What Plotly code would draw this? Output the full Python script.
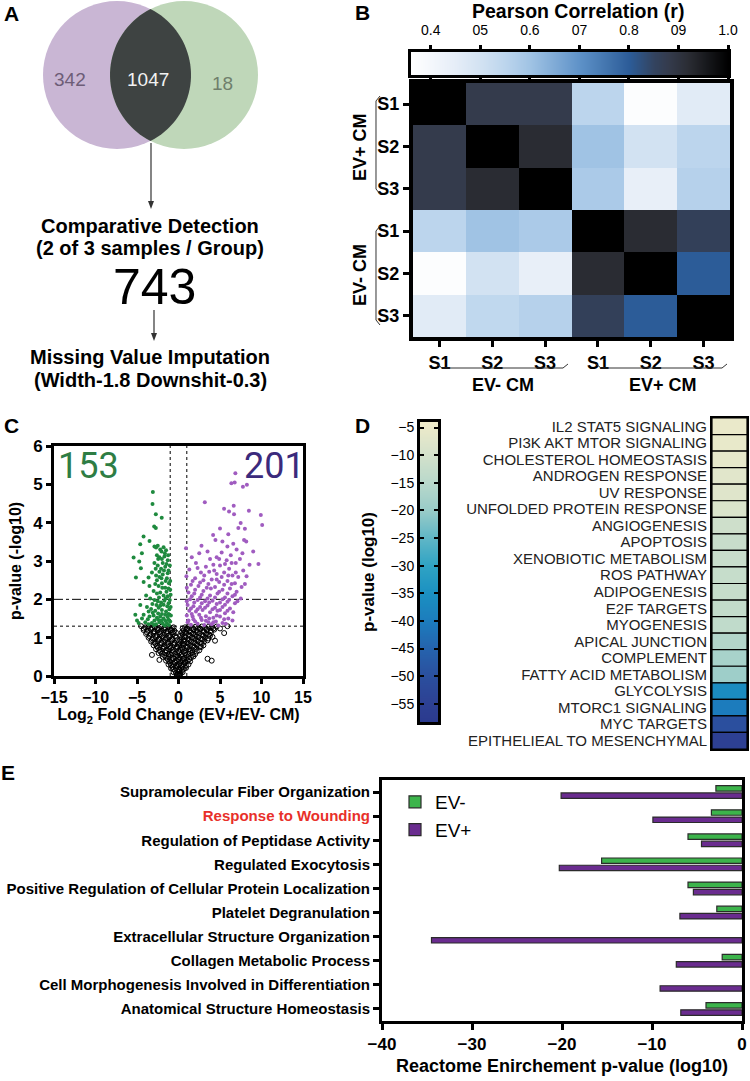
import numpy as np
import plotly.graph_objects as go

W, H = 750, 1081
FONT = "Liberation Sans, Arial, Helvetica, sans-serif"


def px(x):
    return x / W


def py(y):
    return 1 - y / H


# ---------------- A: overlap + workflow ----------------
venn_counts = ["342", "1047", "18"]
detected = "743"
step1 = ["Comparative Detection", "(2 of 3 samples / Group)"]
step2 = ["Missing Value Imputation", "(Width-1.8 Downshit-0.3)"]

# ---------------- B: Pearson correlation ----------------
b_rows = ["S1", "S2", "S3", "S1", "S2", "S3"]
b_cols = ["S1", "S2", "S3", "S1", "S2", "S3"]
b_corr = [
    [1.00, 0.88, 0.88, 0.55, 0.37, 0.46],
    [0.88, 1.00, 0.92, 0.60, 0.50, 0.55],
    [0.88, 0.92, 1.00, 0.58, 0.44, 0.56],
    [0.55, 0.60, 0.58, 1.00, 0.92, 0.86],
    [0.37, 0.50, 0.44, 0.92, 1.00, 0.80],
    [0.46, 0.54, 0.56, 0.86, 0.80, 1.00],
]
b_tickvals = [0.4, 0.5, 0.6, 0.7, 0.8, 0.9, 1.0]
b_ticktext = ["0.4", "05", "0.6", "07", "0.8", "09", "1.0"]
b_lo, b_hi = 0.36, 1.0
b_stops = [(0.36, "#ffffff"), (0.40, "#f4f7fc"), (0.45, "#e5edf7"), (0.50, "#d2e2f2"),
           (0.55, "#bcd5ed"), (0.60, "#a0c3e4"), (0.70, "#5e92c8"), (0.80, "#2c5c98"),
           (0.85, "#33435f"), (0.88, "#343b4c"), (0.92, "#2a2c33"), (1.00, "#000000")]

# ---------------- C: volcano ----------------
down_pts = [(-3.09, 4.80), (-3.13, 4.49), (-2.73, 4.22), (-2.02, 4.13), (-2.93, 3.90), (-2.73, 3.86),
            (-4.21, 3.64), (-3.49, 3.52), (-4.61, 3.44), (-5.41, 3.09), (-4.41, 3.20), (-4.73, 2.99),
            (-5.13, 2.57), (-4.53, 2.81), (-3.61, 2.57),
            (-2.9, 3.38), (-2.7, 3.35), (-2.5, 3.40), (-2.2, 3.30), (-1.8, 3.36), (-1.5, 3.28),
            (-2.6, 3.15), (-2.3, 3.10), (-2.0, 3.05), (-1.7, 3.12), (-1.3, 3.02), (-2.9, 2.95),
            (-2.5, 2.88), (-2.1, 2.80), (-1.6, 2.85), (-1.2, 2.75), (-3.2, 2.70), (-2.7, 2.62),
            (-2.3, 2.58), (-1.9, 2.65), (-1.4, 2.55), (-1.0, 2.48), (-2.8, 2.40), (-2.4, 2.35),
            (-2.0, 2.42), (-1.6, 2.30), (-1.2, 2.28), (-3.0, 2.22), (-2.6, 2.15), (-2.2, 2.18),
            (-1.8, 2.10), (-1.3, 2.08), (-0.95, 2.12), (-3.4, 2.02), (-2.9, 1.98), (-2.5, 1.95),
            (-2.1, 1.92), (-1.7, 1.96), (-1.2, 1.90), (-4.6, 1.85), (-3.8, 1.80), (-3.3, 1.75),
            (-2.8, 1.70), (-2.4, 1.78), (-2.0, 1.72), (-1.5, 1.68), (-1.1, 1.74), (-4.2, 1.60),
            (-3.5, 1.55), (-3.0, 1.58), (-2.6, 1.52), (-2.2, 1.55), (-1.8, 1.50), (-1.3, 1.54),
            (-5.0, 1.45), (-4.0, 1.40), (-3.2, 1.38), (-2.7, 1.35), (-2.3, 1.40), (-1.9, 1.36),
            (-1.4, 1.38), (-1.0, 1.42),
            (-2.05, 3.25), (-1.65, 3.20), (-1.25, 3.15), (-2.45, 3.05), (-1.9, 2.95), (-1.45, 2.92),
            (-1.05, 2.88), (-2.75, 2.80), (-2.3, 2.72), (-1.75, 2.75), (-1.3, 2.68), (-2.05, 2.55),
            (-1.55, 2.48), (-1.15, 2.42), (-2.6, 2.50), (-3.5, 2.35), (-1.95, 2.30), (-1.45, 2.20),
            (-1.0, 2.25), (-2.35, 2.05), (-1.55, 2.02), (-1.05, 1.98), (-3.15, 1.88), (-2.65, 1.85),
            (-2.2, 1.83), (-1.8, 1.86), (-1.35, 1.82), (-0.95, 1.80), (-3.6, 1.68), (-3.1, 1.65),
            (-2.45, 1.63), (-2.0, 1.62), (-1.6, 1.60), (-1.2, 1.62), (-0.92, 1.58), (-4.4, 1.50),
            (-3.7, 1.48), (-2.9, 1.45), (-2.45, 1.47), (-2.05, 1.45), (-1.6, 1.44), (-1.2, 1.47),
            (-3.6, 1.35), (-2.95, 1.33), (-1.65, 1.32), (-1.15, 1.33), (-4.8, 1.38), (-5.2, 1.60),
            (-3.9, 2.10), (-4.2, 2.45)]
up_pts = [(6.85, 5.29), (6.37, 5.03), (6.77, 5.05), (7.76, 4.94), (8.24, 4.99), (3.17, 4.53),
          (6.65, 4.44), (5.49, 4.36), (6.09, 4.29), (6.69, 4.22), (8.48, 4.31), (9.92, 4.20),
          (10.08, 3.94), (7.49, 3.99), (8.00, 3.84), (7.21, 3.86), (8.16, 3.51), (4.17, 3.68),
          (4.45, 3.55), (5.29, 3.51), (5.89, 3.38), (0.90, 3.33), (2.77, 3.40), (2.50, 3.20),
          (9.63, 2.92), (8.56, 2.90),
          (6.6, 3.45), (7.0, 3.30), (6.3, 3.15), (5.2, 3.22), (4.6, 3.10), (3.8, 3.05), (5.8, 3.02),
          (7.4, 3.05), (6.9, 2.95), (4.2, 2.90), (3.3, 2.85), (5.0, 2.88), (6.1, 2.80), (7.8, 2.75),
          (2.7, 2.70), (3.7, 2.72), (4.6, 2.66), (5.5, 2.70), (6.5, 2.62), (7.2, 2.58), (2.0, 2.55),
          (3.0, 2.50), (4.0, 2.52), (4.9, 2.45), (5.9, 2.48), (6.8, 2.42), (8.0, 2.40), (1.5, 2.38),
          (2.4, 2.35), (3.4, 2.30), (4.4, 2.32), (5.3, 2.25), (6.2, 2.28), (7.0, 2.20), (1.2, 2.18),
          (1.9, 2.15), (2.8, 2.12), (3.8, 2.10), (4.7, 2.15), (5.6, 2.05), (6.5, 2.08), (7.5, 2.02),
          (1.4, 2.00), (2.3, 1.98), (3.2, 1.95), (4.1, 1.96), (5.0, 1.92), (5.9, 1.94), (6.8, 1.90),
          (1.1, 1.85), (1.8, 1.82), (2.6, 1.80), (3.5, 1.84), (4.4, 1.78), (5.3, 1.80), (6.2, 1.76),
          (1.3, 1.70), (2.1, 1.68), (2.9, 1.72), (3.8, 1.66), (4.7, 1.70), (5.6, 1.64), (1.0, 1.58),
          (1.7, 1.55), (2.5, 1.60), (3.3, 1.56), (4.2, 1.52), (5.0, 1.55), (6.0, 1.50), (1.2, 1.45),
          (2.0, 1.42), (2.8, 1.46), (3.6, 1.40), (4.5, 1.42), (5.3, 1.38), (1.5, 1.34), (2.3, 1.36),
          (3.1, 1.33), (4.0, 1.35), (4.8, 1.32),
          (1.6, 3.10), (2.1, 2.95), (3.5, 3.25), (4.9, 3.05), (5.6, 2.92), (6.4, 2.95), (7.7, 3.20),
          (1.3, 2.78), (2.3, 2.82), (3.1, 2.62), (4.3, 2.75), (5.2, 2.58), (6.0, 2.62), (6.9, 2.70),
          (8.2, 2.60), (1.7, 2.48), (2.6, 2.44), (3.6, 2.40), (4.6, 2.52), (5.5, 2.38), (6.4, 2.40),
          (7.6, 2.32), (1.0, 2.30), (2.0, 2.25), (3.0, 2.22), (3.9, 2.28), (4.9, 2.20), (5.9, 2.15),
          (6.8, 2.12), (1.6, 2.08), (2.6, 2.05), (3.5, 2.02), (4.4, 2.05), (5.3, 2.00), (6.1, 1.99),
          (7.1, 1.95), (1.0, 1.95), (1.9, 1.92), (2.8, 1.90), (3.7, 1.92), (4.6, 1.88), (5.6, 1.86),
          (1.5, 1.76), (2.3, 1.74), (3.2, 1.78), (4.1, 1.74), (5.0, 1.72), (5.9, 1.70), (6.6, 1.66),
          (1.6, 1.62), (2.7, 1.52), (3.7, 1.50), (4.6, 1.58), (5.5, 1.48), (1.1, 1.40), (1.8, 1.48),
          (3.3, 1.44), (4.2, 1.40), (5.7, 1.36), (6.5, 1.45), (0.95, 2.60), (9.0, 3.25), (7.9, 3.55),
          (5.0, 3.85), (6.0, 3.70)]
ns_pts = [(-4.5, 1.30), (-4.0, 1.27), (-3.6, 1.29), (-3.2, 1.26), (-2.8, 1.28), (-2.4, 1.25), (-2.0, 1.29),
          (-1.6, 1.26), (-1.2, 1.28), (-0.8, 1.25), (0.8, 1.27), (1.2, 1.29), (1.6, 1.25), (2.0, 1.28),
          (2.4, 1.26), (2.8, 1.29), (3.2, 1.25), (3.6, 1.28), (4.0, 1.27), (4.6, 1.29), (5.9, 1.30),
          (-4.2, 1.20), (-3.7, 1.18), (-3.3, 1.21), (-2.9, 1.17), (-2.5, 1.20), (-2.1, 1.18), (-1.7, 1.21),
          (-1.3, 1.17), (-0.9, 1.20), (-0.5, 1.18), (0.6, 1.19), (1.0, 1.21), (1.4, 1.17), (1.8, 1.20),
          (2.2, 1.18), (2.6, 1.21), (3.0, 1.17), (3.4, 1.20), (3.9, 1.18), (4.3, 1.21), (5.5, 1.12),
          (-3.9, 1.10), (-3.4, 1.08), (-3.0, 1.11), (-2.6, 1.07), (-2.2, 1.10), (-1.8, 1.08), (-1.4, 1.11),
          (-1.0, 1.07), (-0.6, 1.10), (0.5, 1.09), (0.9, 1.11), (1.3, 1.07), (1.7, 1.10), (2.1, 1.08),
          (2.5, 1.11), (2.9, 1.07), (3.3, 1.10), (3.7, 1.08), (4.1, 1.02),
          (-3.6, 1.00), (-3.1, 0.98), (-2.7, 1.01), (-2.3, 0.97), (-1.9, 1.00), (-1.5, 0.98), (-1.1, 1.01),
          (-0.7, 0.97), (-0.3, 1.00), (0.4, 0.99), (0.8, 1.01), (1.2, 0.97), (1.6, 1.00), (2.0, 0.98),
          (2.4, 1.01), (2.8, 0.97), (3.2, 1.00), (3.6, 0.98),
          (-3.3, 0.90), (-2.9, 0.88), (-2.5, 0.91), (-2.1, 0.87), (-1.7, 0.90), (-1.3, 0.88), (-0.9, 0.91),
          (-0.5, 0.87), (0.3, 0.89), (0.7, 0.91), (1.1, 0.87), (1.5, 0.90), (1.9, 0.88), (2.3, 0.91),
          (2.7, 0.87), (3.1, 0.90), (4.4, 0.92),
          (-3.0, 0.80), (-2.6, 0.78), (-2.2, 0.81), (-1.8, 0.77), (-1.4, 0.80), (-1.0, 0.78), (-0.6, 0.81),
          (-0.2, 0.77), (0.3, 0.79), (0.6, 0.81), (1.0, 0.77), (1.4, 0.80), (1.8, 0.78), (2.2, 0.81),
          (2.6, 0.77), (3.0, 0.80),
          (-2.7, 0.70), (-2.3, 0.68), (-1.9, 0.71), (-1.5, 0.67), (-1.1, 0.70), (-0.7, 0.68), (-0.3, 0.71),
          (0.2, 0.69), (0.5, 0.71), (0.9, 0.67), (1.3, 0.70), (1.7, 0.68), (2.1, 0.71), (2.5, 0.67),
          (-2.4, 0.60), (-2.0, 0.58), (-1.6, 0.61), (-1.2, 0.57), (-0.8, 0.60), (-0.4, 0.58), (0.1, 0.61),
          (0.4, 0.57), (0.8, 0.60), (1.2, 0.58), (1.6, 0.61), (2.0, 0.57), (-3.2, 0.55),
          (-1.9, 0.50), (-1.5, 0.48), (-1.1, 0.51), (-0.7, 0.47), (-0.3, 0.50), (0.1, 0.48), (0.4, 0.51),
          (0.7, 0.47), (1.1, 0.50), (1.5, 0.48), (1.8, 0.51), (3.5, 0.45), (-2.3, 0.42),
          (-1.5, 0.40), (-1.1, 0.38), (-0.8, 0.41), (-0.5, 0.37), (-0.2, 0.40), (0.2, 0.38), (0.5, 0.41),
          (0.8, 0.37), (1.1, 0.40), (1.4, 0.38), (4.0, 0.40),
          (-1.2, 0.30), (-0.9, 0.28), (-0.6, 0.31), (-0.3, 0.27), (0.0, 0.30), (0.3, 0.28), (0.6, 0.31),
          (0.9, 0.27), (1.2, 0.30), (-0.9, 0.20), (-0.6, 0.18), (-0.3, 0.21), (0.0, 0.17), (0.3, 0.20),
          (0.6, 0.18), (0.9, 0.21), (-0.6, 0.10), (-0.3, 0.08), (0.0, 0.11), (0.2, 0.07), (0.5, 0.10),
          (-0.2, 0.03), (0.0, 0.01), (0.2, 0.04),
          (-4.2, 1.24), (-3.4, 1.24), (-2.6, 1.23), (-1.8, 1.24), (-1.0, 1.23), (-0.6, 1.27), (0.5, 1.24),
          (1.0, 1.24), (1.8, 1.23), (2.6, 1.24), (3.4, 1.23), (4.2, 1.24), (5.0, 1.24),
          (-3.8, 1.14), (-3.0, 1.15), (-2.3, 1.14), (-1.5, 1.15), (-0.7, 1.14), (-0.3, 1.13), (0.4, 1.14),
          (0.8, 1.15), (1.5, 1.13), (2.3, 1.14), (3.1, 1.15), (3.9, 1.13),
          (-3.5, 1.04), (-2.8, 1.05), (-2.0, 1.04), (-1.2, 1.05), (-0.4, 1.04), (0.3, 1.05), (0.7, 1.04),
          (1.4, 1.05), (2.2, 1.03), (3.0, 1.04), (3.8, 1.05),
          (-3.2, 0.94), (-2.4, 0.95), (-1.6, 0.94), (-0.8, 0.95), (-0.2, 0.93), (0.2, 0.94), (0.6, 0.95),
          (1.3, 0.93), (2.1, 0.94), (2.9, 0.95), (3.5, 0.93),
          (-2.8, 0.84), (-2.0, 0.85), (-1.2, 0.84), (-0.4, 0.85), (0.1, 0.84), (0.5, 0.85), (1.2, 0.84),
          (2.0, 0.85), (2.8, 0.84),
          (-2.5, 0.74), (-1.7, 0.75), (-0.9, 0.74), (-0.1, 0.75), (0.4, 0.74), (1.1, 0.75), (1.9, 0.74),
          (2.7, 0.75), (-2.2, 0.64), (-1.4, 0.65), (-0.6, 0.64), (0.0, 0.65), (0.6, 0.64), (1.4, 0.65),
          (2.2, 0.64), (-1.7, 0.54), (-0.9, 0.55), (-0.1, 0.54), (0.3, 0.55), (0.9, 0.54), (1.7, 0.55),
          (-1.3, 0.44), (-0.6, 0.45), (0.0, 0.44), (0.6, 0.45), (1.3, 0.44), (-1.0, 0.34), (-0.4, 0.35),
          (0.2, 0.34), (0.8, 0.35), (-0.7, 0.24), (-0.1, 0.25), (0.5, 0.24), (-0.4, 0.14), (0.1, 0.15),
          (0.4, 0.13), (-0.1, 0.06), (0.1, 0.05)]
n_down, n_up = "153", "201"
fc_lines = [-1, 1]
p_lines = [(2.0, "dashdot"), (1.3, "dot")]

# ---------------- D: hallmark pathways ----------------
d_pathways = ["IL2 STAT5 SIGNALING", "PI3K AKT MTOR SIGNALING", "CHOLESTEROL HOMEOSTASIS",
              "ANDROGEN RESPONSE", "UV RESPONSE", "UNFOLDED PROTEIN RESPONSE", "ANGIOGENESIS",
              "APOPTOSIS", "XENOBIOTIC METABOLISM", "ROS PATHWAY", "ADIPOGENESIS", "E2F TARGETS",
              "MYOGENESIS", "APICAL JUNCTION", "COMPLEMENT", "FATTY ACID METABOLISM", "GLYCOLYSIS",
              "MTORC1 SIGNALING", "MYC TARGETS", "EPITHELIEAL TO MESENCHYMAL"]
d_pvals = [-5.0, -5.5, -6.0, -7.0, -7.5, -8.5, -11.0, -12.0, -12.0, -12.5, -12.5, -13.0,
           -13.5, -16.0, -17.5, -19.0, -36.0, -40.0, -50.0, -55.0]
d_lo, d_hi = -58.3, -4.0
d_tickvals = [-5, -10, -15, -20, -25, -30, -35, -40, -45, -50, -55]
d_stops = [(-58.3, "#2b3a8e"), (-55, "#2d4093"), (-50, "#2b4f9e"), (-45, "#2563ad"),
           (-40, "#1c7cbd"), (-35, "#1b90c1"), (-30, "#2fa3c4"), (-25, "#5fb6c6"),
           (-20, "#98cbc8"), (-15, "#b8d8cb"), (-10, "#d3e1cb"), (-4.0, "#efebca")]

# ---------------- E: Reactome enrichment ----------------
e_terms = ["Supramolecular Fiber Organization", "Response to Wounding",
           "Regulation of Peptidase Activity", "Regulated Exocytosis",
           "Positive Regulation of Cellular Protein Localization", "Platelet Degranulation",
           "Extracellular Structure Organization", "Collagen Metabolic Process",
           "Cell Morphogenesis Involved in Differentiation", "Anatomical Structure Homeostasis"]
e_minus = [-2.9, -3.4, -6.0, -15.6, -6.0, -2.8, None, -2.2, None, -4.0]
e_plus = [-20.1, -9.9, -4.5, -20.3, -5.4, -6.9, -34.5, -7.3, -9.1, -6.8]
e_highlight = "Response to Wounding"


def scale(stops, lo, hi):
    return [[(v - lo) / (hi - lo), c] for v, c in stops]


fig = go.Figure()

# B heatmap + gradient strip
fig.add_trace(go.Heatmap(z=b_corr, x=list(range(6)), y=list(range(6)), coloraxis="coloraxis",
                         xaxis="x", yaxis="y", hoverinfo="skip"))
fig.add_trace(go.Heatmap(z=[[b_lo, b_hi], [b_lo, b_hi]], x=[b_lo, b_hi], y=[0, 1], zsmooth="best",
                         coloraxis="coloraxis", xaxis="x2", yaxis="y2", hoverinfo="skip"))

# C volcano
for pts, mk in [(ns_pts, dict(symbol="circle-open", size=5, color="black", line=dict(width=1))),
                (down_pts, dict(size=4, color="#1e8a3e")),
                (up_pts, dict(size=4, color="#a05cc0"))]:
    fig.add_trace(go.Scatter(x=[p[0] for p in pts], y=[p[1] for p in pts], mode="markers",
                             marker=mk, xaxis="x3", yaxis="y3", showlegend=False, hoverinfo="skip"))

# D gradient strip + pathway cells
fig.add_trace(go.Heatmap(z=[[d_lo, d_lo], [d_hi, d_hi]], x=[0, 1], y=[d_lo, d_hi], zsmooth="best",
                         coloraxis="coloraxis2", xaxis="x4", yaxis="y4", hoverinfo="skip"))
fig.add_trace(go.Bar(x=[1] * len(d_pathways), y=d_pathways, orientation="h", width=1,
                     marker=dict(color=d_pvals, coloraxis="coloraxis2", line=dict(color="black", width=1.2)),
                     xaxis="x5", yaxis="y5", showlegend=False, hoverinfo="skip"))

# E grouped bars
fig.add_trace(go.Bar(x=e_minus, y=e_terms, orientation="h", name="EV-",
                     marker=dict(color="#3cb44b", line=dict(color="#2b2b2b", width=1.2)),
                     xaxis="x6", yaxis="y6"))
fig.add_trace(go.Bar(x=e_plus, y=e_terms, orientation="h", name="EV+",
                     marker=dict(color="#6a2c8f", line=dict(color="#2b2b2b", width=1.2)),
                     xaxis="x6", yaxis="y6"))

# ---- shapes ----
shapes = []


def poly(points, close=False):
    return "M " + " L ".join(f"{px(x):.5f},{py(y):.5f}" for x, y in points) + (" Z" if close else "")


# Venn circles (pixel geometry)
r = 74
ca, cb = (117, 75), (184, 75)
shapes.append(dict(type="circle", xref="paper", yref="paper", x0=px(ca[0] - r), x1=px(ca[0] + r),
                   y0=py(ca[1] + r), y1=py(ca[1] - r), fillcolor="#c9b6d4", line=dict(width=0), layer="below"))
shapes.append(dict(type="circle", xref="paper", yref="paper", x0=px(cb[0] - r), x1=px(cb[0] + r),
                   y0=py(cb[1] + r), y1=py(cb[1] - r), fillcolor="#bfd7b9", line=dict(width=0), layer="below"))
alpha = np.degrees(np.arccos((cb[0] - ca[0]) / 2 / r))
lens = []
for t in np.radians(np.linspace(180 - alpha, 180 + alpha, 40)):
    lens.append((cb[0] + r * np.cos(t), cb[1] + r * np.sin(t)))
for t in np.radians(np.linspace(-alpha, alpha, 40)):
    lens.append((ca[0] + r * np.cos(t), ca[1] + r * np.sin(t)))
shapes.append(dict(type="path", xref="paper", yref="paper", fillcolor="#3e4342", line=dict(width=0),
                   path=poly(lens, close=True)))

# workflow arrows
for xa, top, tip in [(151, 143, 209), (154, 310, 341)]:
    shapes.append(dict(type="line", xref="paper", yref="paper", x0=px(xa), x1=px(xa),
                       y0=py(top), y1=py(tip - 4), line=dict(color="#333", width=1.2)))
    shapes.append(dict(type="path", xref="paper", yref="paper", fillcolor="#333", line=dict(width=0),
                       path=poly([(xa - 3, tip - 8), (xa + 3, tip - 8), (xa, tip)], close=True)))


def bracket(points):
    return dict(type="path", xref="paper", yref="paper", line=dict(color="#333", width=1),
                path=poly(points))


shapes += [bracket([(380, 96), (376, 101), (376, 189), (380, 194)]),
           bracket([(380, 226), (376, 231), (376, 320), (380, 325)]),
           bracket([(437, 364), (442, 368), (563, 368), (568, 364)]),
           bracket([(596, 364), (601, 368), (722, 368), (727, 364)])]

for xv in fc_lines:
    shapes.append(dict(type="line", xref="x3", yref="y3", x0=xv, x1=xv, y0=0, y1=6,
                       line=dict(color="black", width=1, dash="dot"), layer="below"))
for yv, dash in p_lines:
    shapes.append(dict(type="line", xref="x3", yref="y3", x0=-15, x1=15, y0=yv, y1=yv,
                       line=dict(color="black", width=1, dash=dash), layer="below"))

# ---- annotations ----
ann = []


def note(text, x, y, size, color="black", angle=0, xanchor="center", family=FONT):
    ann.append(dict(text=text, x=px(x), y=py(y), xref="paper", yref="paper", showarrow=False,
                    xanchor=xanchor, yanchor="middle", textangle=angle,
                    font=dict(size=size, color=color, family=family)))


for letter, (lx, ly) in zip("ABCDE", [(11, 13), (362, 12), (11, 425), (362, 425), (8, 772)]):
    note(f"<b>{letter}</b>", lx, ly, 21)

note(venn_counts[0], 70, 80, 19, color="#6d5d77")
note(venn_counts[1], 148, 80, 19, color="#f2f2f2")
note(venn_counts[2], 222, 83, 19, color="#6f7f6c")
note(f"<b>{step1[0]}</b>", 150, 226, 20)
note(f"<b>{step1[1]}</b>", 150, 248, 20)
note(detected, 154, 287, 50)
note(f"<b>{step2[0]}</b>", 150, 357, 20)
note(f"<b>{step2[1]}</b>", 150, 380, 20)

note("<b>Pearson Correlation (r)</b>", 578, 11, 19.5)
note("<b>EV+ CM</b>", 360, 147, 18, angle=-90)
note("<b>EV- CM</b>", 360, 275, 18, angle=-90)
note("<b>EV- CM</b>", 503, 385, 18)
note("<b>EV+ CM</b>", 663, 385, 18)

note(n_down, 88, 466, 36, color="#2e7d44", family="Roboto, " + FONT)
note(n_up, 274, 466, 36, color="#3b2a7c", family="Roboto, " + FONT)


# ---- axes ----
def ax(**kw):
    base = dict(showgrid=False, zeroline=False, showline=True, linecolor="black", mirror=True,
                ticks="outside", tickcolor="black", automargin=False)
    base.update(kw)
    return base


def bold(s):
    return dict(size=s, weight="bold", family=FONT, color="black")


e_ticktext = [f"<span style='color:#e8302a'>{t}</span>" if t == e_highlight else t for t in e_terms]

fig.update_layout(
    width=W, height=H, margin=dict(l=0, r=0, t=0, b=0, autoexpand=False),
    paper_bgcolor="white", plot_bgcolor="white",
    font=dict(family=FONT, color="black"),
    barmode="group", bargap=0.4, bargroupgap=0.25,
    coloraxis=dict(colorscale=scale(b_stops, b_lo, b_hi), cmin=b_lo, cmax=b_hi, showscale=False),
    coloraxis2=dict(colorscale=scale(d_stops, d_lo, d_hi), cmin=d_lo, cmax=d_hi, showscale=False),
    shapes=shapes, annotations=ann,
    legend=dict(x=px(395), y=py(783), xanchor="left", yanchor="top", font=dict(size=19, family=FONT),
                bgcolor="rgba(0,0,0,0)", tracegroupgap=0),
    # B heatmap
    xaxis=ax(domain=[px(413), px(730)], anchor="y", range=[-0.5, 5.5], tickvals=list(range(6)),
             ticktext=b_cols, linewidth=4, ticklen=6, tickwidth=3, tickfont=bold(18)),
    yaxis=ax(domain=[py(337), py(83)], anchor="x", range=[5.5, -0.5], tickvals=list(range(6)),
             ticktext=b_rows, linewidth=4, ticklen=6, tickwidth=3, tickfont=bold(18)),
    # B colour strip
    xaxis2=ax(domain=[px(411), px(728)], anchor="y2", side="top", range=[b_lo, b_hi],
              tickvals=b_tickvals, ticktext=b_ticktext, mirror="allticks", linewidth=3,
              ticklen=4, tickwidth=3, ticklabelstandoff=4, tickfont=dict(size=14, family=FONT)),
    yaxis2=ax(domain=[py(75), py(52)], anchor="x2", range=[0, 1], ticks="", showticklabels=False,
              linewidth=3),
    # C volcano
    xaxis3=ax(domain=[px(54), px(303)], anchor="y3", range=[-15, 15], dtick=5, linewidth=3,
              ticklen=5, tickwidth=3, tickfont=bold(16),
              title=dict(text="Log<sub>2</sub> Fold Change (EV+/EV- CM)", font=bold(16), standoff=2)),
    yaxis3=ax(domain=[py(676), py(446)], anchor="x3", range=[0, 6], dtick=1, linewidth=3,
              ticklen=5, tickwidth=3, tickfont=bold(17),
              title=dict(text="p-value (-log10)", font=bold(16), standoff=8)),
    # D colour strip
    xaxis4=ax(domain=[px(420), px(438)], anchor="y4", range=[0, 1], ticks="", showticklabels=False,
              linewidth=3),
    yaxis4=ax(domain=[py(722), py(422)], anchor="x4", range=[d_lo, d_hi], tickvals=d_tickvals,
              ticks="inside", mirror="allticks", linewidth=3, ticklen=4, tickwidth=2,
              tickfont=dict(size=14, family=FONT),
              title=dict(text="p-value (log10)", font=bold(17), standoff=12)),
    # D pathway cells
    xaxis5=ax(domain=[px(712), px(747)], anchor="y5", range=[0, 1], ticks="", showticklabels=False,
              linewidth=2),
    yaxis5=ax(domain=[py(749), py(418)], anchor="x5", autorange="reversed", ticks="", linewidth=2,
              tickvals=d_pathways, ticktext=d_pathways, tickfont=dict(size=15, family=FONT, color="#222")),
    # E bars
    xaxis6=ax(domain=[px(382), px(742)], anchor="y6", range=[-40, 0], dtick=10, linewidth=3,
              ticklen=6, tickwidth=3, tickfont=bold(17),
              title=dict(text="Reactome Enirchement p-value (log10)", font=bold(18), standoff=6)),
    yaxis6=ax(domain=[py(1021), py(780)], anchor="x6", autorange="reversed", linewidth=3,
              ticklen=6, tickwidth=3, tickfont=bold(15), tickvals=e_terms, ticktext=e_ticktext),
)

# the page's default body margin would shift the whole figure by 8px
fig.write_html("out.html", config={"displayModeBar": False},
               post_script="document.body.style.margin='0';document.body.style.overflow='hidden';")
